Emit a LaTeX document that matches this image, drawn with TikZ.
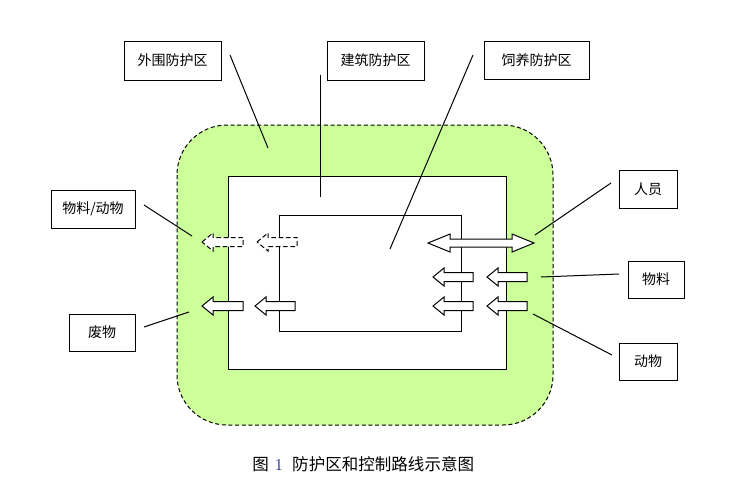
\documentclass[tikz,border=0pt]{standalone}
\usepackage{fontspec}
\newfontfamily\cjk{Noto Sans CJK SC}
\definecolor{zonegreen}{RGB}{204,255,153}
\definecolor{numblue}{RGB}{30,30,130}
\def\px{0.75pt}
\newcommand\myleftarrow[4]{% style, tip x, tail x, y
  \draw[#1] (#2,#4) -- (#2+11,#4-9) -- (#2+11,#4-4.5) -- (#3,#4-4.5) -- (#3,#4+4.5) -- (#2+11,#4+4.5) -- (#2+11,#4+9) -- cycle;}
\begin{document}
\begin{tikzpicture}[x=0.75pt,y=-0.75pt,
  line/.style={line width=0.75pt, black},
  lbl/.style={draw, line width=0.75pt, inner sep=0pt, font=\cjk\fontsize{10.5}{12}\selectfont},
  arr/.style={draw, line width=0.75pt, fill=white, line join=miter},
  darr/.style={arr, dash pattern=on 3.5pt off 2pt}]
\useasboundingbox (0,0) rectangle (745,500);
% zones
\draw[line width=0.75pt, dash pattern=on 3pt off 2pt, fill=zonegreen, rounded corners=50*\px] (177,125) rectangle (553,425);
\draw[line, fill=white] (228,176) rectangle (506,369);
\draw[line] (279,215) rectangle (461,331);
% arrows
\myleftarrow{darr}{202}{243}{242}
\myleftarrow{darr}{257}{297}{242}
\myleftarrow{arr}{202}{243}{306}
\myleftarrow{arr}{255}{295}{306}
\myleftarrow{arr}{433}{473}{277}
\myleftarrow{arr}{487}{527}{277}
\myleftarrow{arr}{433}{473}{306}
\myleftarrow{arr}{487}{527}{306}
\draw[arr] (428,243) -- (450,234) -- (450,239) -- (512,239) -- (512,234) -- (534,243) -- (512,252) -- (512,247) -- (450,247) -- (450,252) -- cycle;
% labels
\node[lbl, minimum width=97*\px, minimum height=39*\px] (wai) at (172.5,60.5) {外围防护区};
\node[lbl, minimum width=97*\px, minimum height=39*\px] (jian) at (375.5,60.5) {建筑防护区};
\node[lbl, minimum width=105*\px, minimum height=38*\px] (si) at (536.5,60) {饲养防护区};
\node[lbl, minimum width=84*\px, minimum height=38*\px] (wldw) at (93,209) {物料/动物};
\node[lbl, minimum width=66*\px, minimum height=37*\px] (fei) at (102,332.5) {废物};
\node[lbl, minimum width=58*\px, minimum height=38*\px] (ren) at (648,189) {人员};
\node[lbl, minimum width=56*\px, minimum height=37*\px] (wl) at (656,279.5) {物料};
\node[lbl, minimum width=58*\px, minimum height=37*\px] (dw) at (648,361.5) {动物};
% connector ends
\coordinate (waiS) at (230,55);   \coordinate (waiE) at (268,148);
\coordinate (jianS) at (320,75);  \coordinate (jianE) at (320,197);
\coordinate (siS) at (473,55);    \coordinate (siE) at (390,249);
\coordinate (wldwS) at (144,205); \coordinate (wldwE) at (192,236);
\coordinate (feiS) at (144,327);  \coordinate (feiE) at (189,312);
\coordinate (renS) at (611,183);  \coordinate (renE) at (535,235);
\coordinate (wlS) at (619,274);   \coordinate (wlE) at (541,277);
\coordinate (dwS) at (612,355);   \coordinate (dwE) at (533,314);
\draw[line] (waiS) -- (waiE);
\draw[line] (jianS) -- (jianE);
\draw[line] (siS) -- (siE);
\draw[line] (wldwS) -- (wldwE);
\draw[line] (feiS) -- (feiE);
\draw[line] (renS) -- (renE);
\draw[line] (wlS) -- (wlE);
\draw[line] (dwS) -- (dwE);
% caption
\node[anchor=west, inner sep=0pt, font=\cjk\fontsize{12.4}{15}\selectfont] (cap) at (252,464) {图\hspace{4.5pt}{\rmfamily\textcolor{numblue}{1}}\hspace{7pt}防护区和控制路线示意图};
\end{tikzpicture}
\end{document}
